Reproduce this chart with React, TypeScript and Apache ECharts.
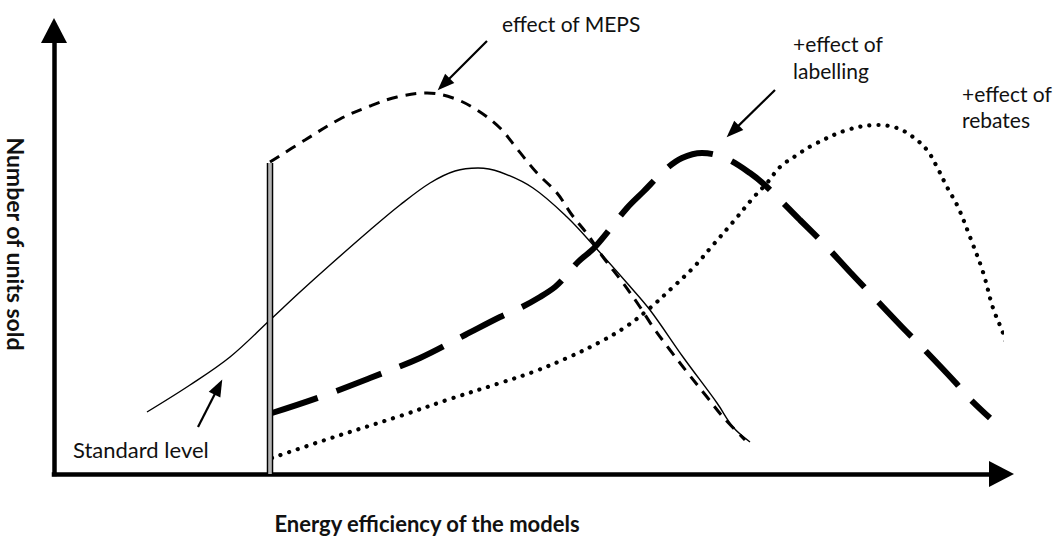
import React, { useEffect, useRef } from "react";
import * as echarts from "echarts";

// Conceptual units: x = energy efficiency index, y = number of units sold (relative)
const X_MAX = 947.5;
const Y_MAX = 443.5;

const baseline: [number, number][] = [
  [93, 62], [136, 89], [176, 117], [216, 154], [246, 182], [276, 209], [316, 244],
  [346, 269], [376, 291], [401, 303], [424, 306], [446, 302], [479, 286], [513, 257],
  [541, 227], [573, 191], [596, 164], [629, 117], [663, 71], [679, 47], [696, 32],
];

const mepsEffect: [number, number][] = [
  [216, 312], [251, 334], [286, 355], [316, 368], [343, 377], [373, 381], [399, 376],
  [423, 364], [446, 346], [464, 324], [483, 301], [503, 281], [518, 259], [534, 239],
  [549, 217], [569, 191], [586, 167], [599, 147], [616, 124], [633, 102], [653, 77],
  [669, 57], [691, 34],
];

const labellingEffect: [number, number][] = [
  [218, 61], [266, 77], [316, 96], [366, 116], [411, 139], [446, 157], [468, 167],
  [486, 177], [501, 187], [511, 197], [524, 212], [541, 227], [573, 266], [589, 282],
  [611, 304], [628, 316], [648, 321], [671, 316], [696, 301], [713, 287], [746, 254],
  [771, 229], [796, 202], [813, 184], [849, 146], [864, 131], [901, 92], [914, 77], [936, 56],
];

const rebatesEffect: [number, number][] = [
  [218, 16], [271, 34], [346, 58], [396, 75], [446, 91], [479, 102], [513, 116],
  [546, 132], [573, 148], [596, 166], [619, 187], [639, 206], [659, 229], [679, 252],
  [699, 276], [713, 291], [726, 307], [743, 319], [759, 329], [793, 344], [823, 349],
  [843, 346], [859, 337], [873, 324], [883, 307], [893, 287], [904, 267], [916, 237],
  [929, 202], [939, 166], [949, 141], [959, 111], [969, 84], [983, 47],
];

const standardLevel: [number, number][] = [
  [216, 0], [216, 311],
];

// annotation arrows: [from, to]
const annotationArrows: [[number, number], [number, number]][] = [
  [[433, 433], [389.7, 389.7]],
  [[721, 384], [678.7, 342.6]],
  [[144, 47], [164.4, 86.9]],
];

const FONT = "Lato, 'Open Sans', sans-serif";

export default function App() {
  const ref = useRef<HTMLDivElement>(null);
  useEffect(() => {
    if (!ref.current) return;
    const chart = echarts.init(ref.current, undefined, { renderer: "svg" });
    const textStyle = (extra: any) => ({
      fill: "#111",
      font: `21px ${FONT}`,
      ...extra,
    });
    const option: any = {
      animation: false,
      backgroundColor: "#fff",
      grid: { left: 54, right: 57.5, top: 30.5, bottom: 63, containLabel: false },
      xAxis: {
        type: "value",
        min: 0,
        max: X_MAX,
        axisLine: {
          show: true,
          symbol: ["none", "triangle"],
          symbolSize: [26, 25],
          lineStyle: { color: "#000", width: 4.5, cap: "square" },
        },
        axisTick: { show: false },
        axisLabel: { show: false },
        splitLine: { show: false },
      },
      yAxis: {
        type: "value",
        min: 0,
        max: Y_MAX,
        axisLine: {
          show: true,
          symbol: ["none", "triangle"],
          symbolSize: [26, 25],
          lineStyle: { color: "#000", width: 4.5, cap: "square" },
        },
        axisTick: { show: false },
        axisLabel: { show: false },
        splitLine: { show: false },
      },
      series: [
        {
          name: "Standard level outer",
          type: "line",
          data: standardLevel,
          showSymbol: false,
          clip: false,
          lineStyle: { color: "#000", width: 6.5 },
          z: 5,
        },
        {
          name: "Standard level inner",
          type: "line",
          data: standardLevel,
          showSymbol: false,
          clip: false,
          lineStyle: { color: "#b4b4b4", width: 3.6 },
          z: 6,
        },
        {
          name: "Baseline",
          type: "line",
          data: baseline,
          smooth: 0.35,
          showSymbol: false,
          clip: false,
          lineStyle: { color: "#000", width: 1.4 },
          markLine: {
            silent: true,
            animation: false,
            symbol: ["none", "triangle"],
            symbolSize: [13, 17],
            label: { show: false },
            lineStyle: { color: "#000", width: 2.2, type: "solid" },
            data: annotationArrows.map(([a, b]) => [{ coord: a }, { coord: b }]),
          },
        },
        {
          name: "effect of MEPS",
          type: "line",
          data: mepsEffect,
          smooth: 0.35,
          showSymbol: false,
          clip: false,
          lineStyle: { color: "#000", width: 3, type: [11, 8] },
        },
        {
          name: "+effect of labelling",
          type: "line",
          data: labellingEffect,
          smooth: 0.35,
          showSymbol: false,
          clip: false,
          lineStyle: { color: "#000", width: 6, type: [48, 20] },
        },
        {
          name: "+effect of rebates",
          type: "line",
          data: rebatesEffect,
          smooth: 0.35,
          showSymbol: false,
          clip: false,
          lineStyle: { color: "#000", width: 4.2, type: [0.1, 9], cap: "round" },
        },
      ],
      graphic: [
        { type: "text", left: 502, top: 13, style: textStyle({ text: "effect of MEPS" }) },
        { type: "text", left: 793, top: 33, style: textStyle({ text: "+effect of" }) },
        { type: "text", left: 793, top: 60, style: textStyle({ text: "labelling" }) },
        { type: "text", left: 962, top: 83, style: textStyle({ text: "+effect of" }) },
        { type: "text", left: 962, top: 109, style: textStyle({ text: "rebates" }) },
        { type: "text", left: 73, top: 438, style: textStyle({ text: "Standard level", font: `22px ${FONT}` }) },
        {
          type: "text",
          x: 427,
          y: 523,
          style: {
            text: "Energy efficiency of the models",
            fill: "#111",
            font: `bold 22px ${FONT}`,
            align: "center",
            verticalAlign: "middle",
          },
        },
        {
          type: "text",
          x: 16,
          y: 244,
          rotation: -Math.PI / 2,
          style: {
            text: "Number of units sold",
            fill: "#111",
            font: `bold 23px ${FONT}`,
            align: "center",
            verticalAlign: "middle",
          },
        },
      ],
    };
    chart.setOption(option);
    return () => chart.dispose();
  }, []);
  return (
    <div
      ref={ref}
      style={{ position: "fixed", left: 0, top: 0, width: 1059, height: 537, background: "#fff" }}
    />
  );
}
